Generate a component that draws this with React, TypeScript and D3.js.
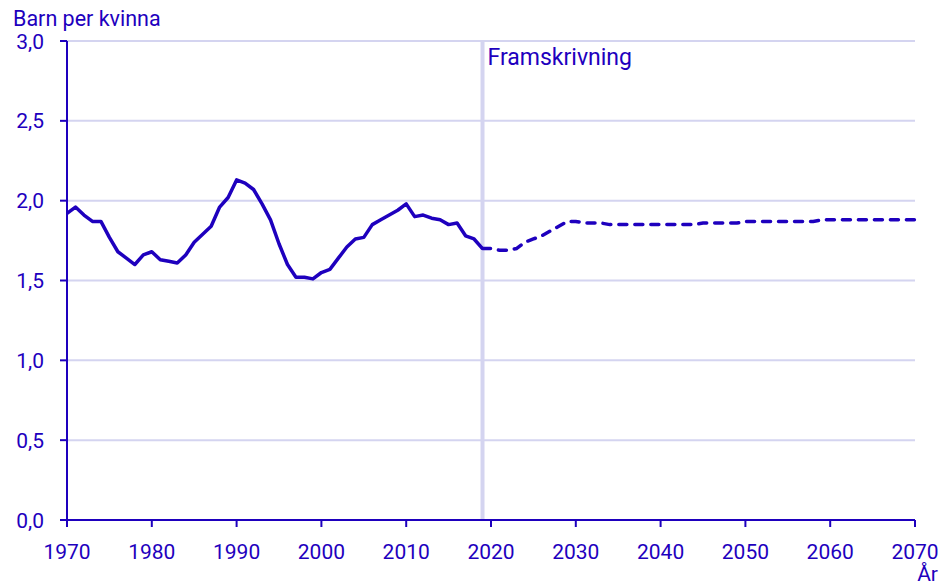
import React from "react";
import * as d3 from "d3";

// Summerad fruktsamhet, utfall och framskrivning
const outcomeYears = [
  1970, 1971, 1972, 1973, 1974, 1975, 1976, 1977, 1978, 1979,
  1980, 1981, 1982, 1983, 1984, 1985, 1986, 1987, 1988, 1989,
  1990, 1991, 1992, 1993, 1994, 1995, 1996, 1997, 1998, 1999,
  2000, 2001, 2002, 2003, 2004, 2005, 2006, 2007, 2008, 2009,
  2010, 2011, 2012, 2013, 2014, 2015, 2016, 2017, 2018, 2019,
];
const outcomeValues = [
  1.92, 1.96, 1.91, 1.87, 1.87, 1.77, 1.68, 1.64, 1.6, 1.66,
  1.68, 1.63, 1.62, 1.61, 1.66, 1.74, 1.79, 1.84, 1.96, 2.02,
  2.13, 2.11, 2.07, 1.98, 1.88, 1.73, 1.6, 1.52, 1.52, 1.51,
  1.55, 1.57, 1.64, 1.71, 1.76, 1.77, 1.85, 1.88, 1.91, 1.94,
  1.98, 1.9, 1.91, 1.89, 1.88, 1.85, 1.86, 1.78, 1.76, 1.7,
];

const projYears = [
  2019, 2020, 2021, 2022, 2023, 2024, 2025, 2026, 2027, 2028,
  2029, 2030, 2031, 2032, 2033, 2034, 2044, 2045, 2049, 2050,
  2058, 2059, 2070,
];
const projValues = [
  1.7, 1.7, 1.69, 1.69, 1.7, 1.74, 1.76, 1.78, 1.81, 1.84,
  1.87, 1.87, 1.86, 1.86, 1.86, 1.85, 1.85, 1.86, 1.86, 1.87,
  1.87, 1.88, 1.88,
];

const yTicks = [0, 0.5, 1, 1.5, 2, 2.5, 3];
const xTicks = [1970, 1980, 1990, 2000, 2010, 2020, 2030, 2040, 2050, 2060, 2070];
const projStart = 2019;

const W = 949;
const H = 586;
const blue = "#1e00be";
const grid = "#d4d4f0";
const font = "Roboto, sans-serif";
const fs = 21;

export default function App() {
  const x = d3.scaleLinear().domain([1970, 2070]).range([67, 915]);
  const y = d3.scaleLinear().domain([0, 3]).range([520, 41]);

  const lineGen = d3
    .line<[number, number]>()
    .x((d) => x(d[0]))
    .y((d) => y(d[1]));

  const outcomePath = lineGen(outcomeYears.map((yr, i) => [yr, outcomeValues[i]]));
  const projPath = lineGen(projYears.map((yr, i) => [yr, projValues[i]]));

  return (
    <svg
      width={W}
      height={H}
      viewBox={`0 0 ${W} ${H}`}
      style={{ position: "absolute", top: 0, left: 0, background: "#fff" }}
      fontFamily={font}
    >
      {yTicks.map((t) => (
        <g key={t}>
          {t > 0 && (
            <line x1={x(1970)} x2={x(2070)} y1={y(t)} y2={y(t)} stroke={grid} strokeWidth={2} />
          )}
          <line x1={60} x2={x(1970)} y1={y(t)} y2={y(t)} stroke={blue} strokeWidth={2} />
          <text x={44} y={y(t) + 7.5} textAnchor="end" fontSize={fs} fill={blue}>
            {d3.format(".1f")(t).replace(".", ",")}
          </text>
        </g>
      ))}

      <line x1={x(projStart)} x2={x(projStart)} y1={y(3)} y2={y(0)} stroke={grid} strokeWidth={4} />
      <text x={x(projStart) + 5} y={65} fontSize={23} fill={blue}>
        Framskrivning
      </text>

      <line x1={x(1970)} x2={x(1970)} y1={y(3)} y2={y(0)} stroke={blue} strokeWidth={2} />
      <line x1={x(1970)} x2={x(2070)} y1={y(0)} y2={y(0)} stroke={blue} strokeWidth={2} />
      {xTicks.map((t) => (
        <g key={t}>
          <line x1={x(t)} x2={x(t)} y1={y(0)} y2={y(0) + 7} stroke={blue} strokeWidth={2} />
          <text x={x(t)} y={559} textAnchor="middle" fontSize={fs} fill={blue}>
            {t}
          </text>
        </g>
      ))}

      <path d={outcomePath ?? ""} fill="none" stroke={blue} strokeWidth={3.5} strokeLinejoin="round" />
      <path
        d={projPath ?? ""}
        fill="none"
        stroke={blue}
        strokeWidth={3.5}
        strokeDasharray="8 8"
        strokeLinecap="round"
      />

      <text x={13} y={26} fontSize={21.5} fill={blue}>
        Barn per kvinna
      </text>
      <text x={938} y={581} textAnchor="end" fontSize={fs} fill={blue}>
        År
      </text>
    </svg>
  );
}
